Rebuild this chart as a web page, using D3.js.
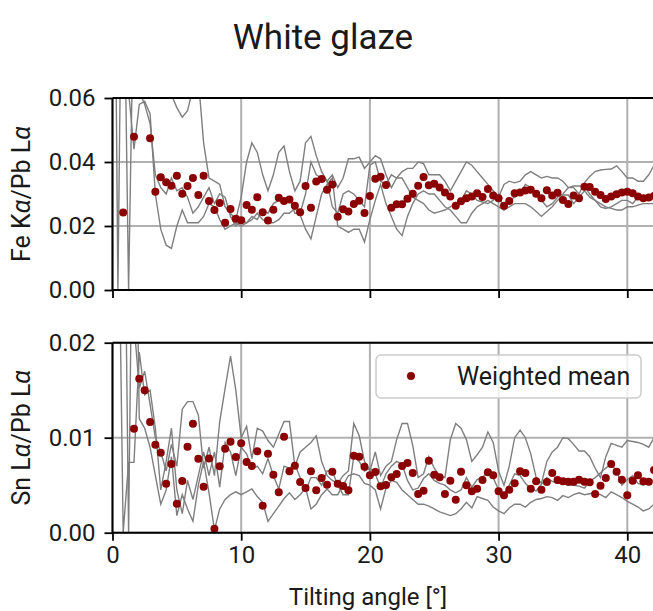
<!DOCTYPE html>
<html>
<head>
<meta charset="utf-8">
<script src="https://cdn.jsdelivr.net/npm/d3@7"></script>
<style>
  body { margin: 0; background: #fff; }
  svg text { font-family: Roboto, "Noto Sans", sans-serif; fill: #1a1a1a; }
</style>
</head>
<body>
<div id="chart"></div>
<script>
var width = 653, height = 611;

// tilting angles of the measurements [deg]
var angles = [
  0.00, 0.42, 0.83, 1.25, 1.67, 2.08, 2.50, 2.92, 3.33, 3.75,
  4.17, 4.58, 5.00, 5.42, 5.83, 6.25, 6.67, 7.08, 7.50, 7.92,
  8.33, 8.75, 9.17, 9.58, 10.00, 10.42, 10.83, 11.25, 11.67, 12.08,
  12.50, 12.92, 13.33, 13.75, 14.17, 14.58, 15.00, 15.42, 15.83, 16.25,
  16.67, 17.08, 17.50, 17.92, 18.33, 18.75, 19.17, 19.58, 20.00, 20.42,
  20.83, 21.25, 21.67, 22.08, 22.50, 22.92, 23.33, 23.75, 24.17, 24.58,
  25.00, 25.42, 25.83, 26.25, 26.67, 27.08, 27.50, 27.92, 28.33, 28.75,
  29.17, 29.58, 30.00, 30.42, 30.83, 31.25, 31.67, 32.08, 32.50, 32.92,
  33.33, 33.75, 34.17, 34.58, 35.00, 35.42, 35.83, 36.25, 36.67, 37.08,
  37.50, 37.92, 38.33, 38.75, 39.17, 39.58, 40.00, 40.42, 40.83, 41.25,
  41.67, 42.08
];

// Fe Ka / Pb La
var feMean = [
  null, null, 0.0242, null, 0.0479, null, null, 0.0474, 0.0307, 0.0352,
  0.0337, 0.0326, 0.0357, 0.0301, 0.0325, 0.0350, 0.0297, 0.0357, 0.0278, 0.0250,
  0.0272, 0.0210, 0.0253, 0.0223, 0.0218, 0.0266, 0.0251, 0.0290, 0.0243, 0.0217,
  0.0251, 0.0288, 0.0278, 0.0283, 0.0263, 0.0243, 0.0325, 0.0257, 0.0339, 0.0347,
  0.0313, 0.0330, 0.0229, 0.0252, 0.0245, 0.0269, 0.0279, 0.0241, 0.0294, 0.0348,
  0.0354, 0.0328, 0.0257, 0.0268, 0.0268, 0.0285, 0.0301, 0.0326, 0.0353, 0.0327,
  0.0332, 0.0320, 0.0305, 0.0292, 0.0263, 0.0277, 0.0287, 0.0292, 0.0302, 0.0291,
  0.0316, 0.0295, 0.0287, 0.0263, 0.0278, 0.0302, 0.0305, 0.0311, 0.0313, 0.0301,
  0.0287, 0.0312, 0.0295, 0.0304, 0.0281, 0.0269, 0.0295, 0.0287, 0.0323, 0.0322,
  0.0307, 0.0297, 0.0284, 0.0292, 0.0299, 0.0305, 0.0307, 0.0302, 0.0292, 0.0287,
  0.0289, 0.0294
];
var feRunA = [
  0.20, 0.000, 0.15, 0.062, 0.044, 0.058, 0.059, 0.055, 0.030, 0.019,
  0.014, 0.013, 0.020, 0.025, 0.021, 0.021, 0.021, 0.023, 0.027, 0.026,
  0.022, 0.019, 0.020, 0.021, 0.020, 0.021, 0.022, 0.024, 0.022, 0.021,
  0.021, 0.022, 0.024, 0.024, 0.0255, 0.0234, 0.019, 0.016, 0.023, 0.030,
  0.033, 0.035, 0.020, 0.019, 0.018, 0.019, 0.019, 0.015, 0.022, 0.028,
  0.033, 0.027, 0.023, 0.019, 0.017, 0.023, 0.027, 0.030, 0.031, 0.030,
  0.030, 0.028, 0.026, 0.025, 0.023, 0.021, 0.021, 0.024, 0.026, 0.027,
  0.028, 0.027, 0.026, 0.025, 0.026, 0.027, 0.027, 0.027, 0.026, 0.0245,
  0.023, 0.0245, 0.026, 0.028, 0.0297, 0.0297, 0.027, 0.029, 0.031, 0.029,
  0.028, 0.027, 0.026, 0.0255, 0.025, 0.025, 0.026, 0.026, 0.0265, 0.027,
  0.027, 0.027
];
var feRunB = [
  0.20, 0.20, 0.12, 0.000, 0.10, 0.062, 0.058, 0.052, 0.036, 0.032,
  0.030, 0.035, 0.031, 0.032, 0.029, 0.024, 0.026, 0.029, 0.032, 0.027,
  0.030, 0.029, 0.023, 0.020, 0.022, 0.021, 0.023, 0.022, 0.025, 0.024,
  0.027, 0.028, 0.027, 0.029, 0.024, 0.024, 0.030, 0.040, 0.036, 0.035,
  0.034, 0.026, 0.024, 0.030, 0.031, 0.030, 0.028, 0.026, 0.039, 0.040,
  0.034, 0.033, 0.036, 0.035, 0.035, 0.032, 0.029, 0.028, 0.027, 0.025,
  0.024, 0.0245, 0.025, 0.026, 0.027, 0.028, 0.031, 0.030, 0.028, 0.0275,
  0.027, 0.028, 0.030, 0.025, 0.028, 0.029, 0.030, 0.033, 0.032, 0.030,
  0.028, 0.026, 0.027, 0.029, 0.030, 0.032, 0.0325, 0.0325, 0.0323, 0.030,
  0.028, 0.026, 0.0255, 0.026, 0.027, 0.028, 0.028, 0.027, 0.029, 0.0295,
  0.0295, 0.030
];
var feRunC = [
  0.20, 0.15, 0.09, 0.070, 0.062, 0.063, 0.066, 0.068, 0.070, 0.070,
  0.066, 0.061, 0.057, 0.054, 0.056, 0.063, 0.066, 0.046, 0.035, 0.034,
  0.033, 0.026, 0.024, 0.022, 0.029, 0.040, 0.046, 0.043, 0.036, 0.031,
  0.036, 0.043, 0.045, 0.037, 0.031, 0.034, 0.046, 0.048, 0.042, 0.037,
  0.034, 0.036, 0.032, 0.035, 0.041, 0.041, 0.0415, 0.038, 0.040, 0.042,
  0.041, 0.036, 0.032, 0.035, 0.037, 0.038, 0.038, 0.040, 0.0395, 0.036,
  0.036, 0.036, 0.034, 0.031, 0.034, 0.037, 0.040, 0.039, 0.037, 0.035,
  0.033, 0.031, 0.029, 0.033, 0.034, 0.0335, 0.034, 0.036, 0.037, 0.036,
  0.035, 0.0355, 0.035, 0.035, 0.034, 0.032, 0.032, 0.030, 0.0335, 0.0355,
  0.037, 0.0375, 0.0377, 0.0378, 0.0388, 0.037, 0.035, 0.035, 0.034, 0.034,
  0.036, 0.039
];

// Sn La / Pb La
var snMean = [
  null, null, null, null, 0.01095, 0.0162, 0.0150, 0.01165, 0.00926, 0.00842,
  0.00516, 0.00723, 0.00305, 0.00544, 0.00905, 0.01147, 0.00779, 0.00484, 0.00782, 0.00042,
  0.00699, 0.00884, 0.00958, 0.00797, 0.00941, 0.00744, 0.00702, 0.00857, 0.00284, 0.00832,
  0.00611, 0.00425, 0.01011, 0.00646, 0.00705, 0.00534, 0.0047, 0.00646, 0.00446, 0.00576,
  0.00505, 0.00642, 0.00516, 0.00491, 0.00446, 0.0081, 0.0080, 0.00695, 0.00604, 0.00639,
  0.00488, 0.00502, 0.00583, 0.00618, 0.00702, 0.00734, 0.00628, 0.00407, 0.00442, 0.00758,
  0.00611, 0.00583, 0.00407, 0.00547, 0.00347, 0.00642, 0.00499, 0.00436, 0.00463, 0.00555,
  0.00636, 0.00604, 0.00436, 0.00394, 0.00453, 0.0052, 0.00646, 0.00628, 0.00463, 0.00541,
  0.00453, 0.00533, 0.00628, 0.00555, 0.00541, 0.00537, 0.00537, 0.00558, 0.00537, 0.0053,
  0.00407, 0.00495, 0.00576, 0.00723, 0.00642, 0.00558, 0.00394, 0.00547, 0.00604, 0.00541,
  0.00537, 0.0066
];
var snRunA = [
  0.05, 0.05, 0.04, 0.028, 0.022, 0.0152, 0.0170, 0.0135, 0.0100, 0.0085,
  0.0065, 0.0093, 0.0070, 0.0130, 0.0138, 0.0138, 0.0124, 0.0068, 0.0090, 0.0060,
  0.0117, 0.0152, 0.0186, 0.0150, 0.0100, 0.0112, 0.0078, 0.0110, 0.0107, 0.0097,
  0.0090, 0.0104, 0.0117, 0.0117, 0.0070, 0.0085, 0.0090, 0.0095, 0.0102, 0.0075,
  0.0060, 0.0055, 0.0052, 0.0060, 0.0065, 0.0115, 0.0102, 0.0075, 0.0065, 0.0085,
  0.0060, 0.0070, 0.0075, 0.0098, 0.0115, 0.0115, 0.0092, 0.0058, 0.0062, 0.0080,
  0.0068, 0.0060, 0.0058, 0.0098, 0.0115, 0.0110, 0.0098, 0.0075, 0.0082, 0.0090,
  0.0106, 0.0095, 0.0065, 0.0050, 0.0070, 0.0100, 0.0108, 0.0100, 0.0083, 0.0058,
  0.0052, 0.0075, 0.0085, 0.0090, 0.0100, 0.0099, 0.0093, 0.0086, 0.0086, 0.0080,
  0.0068, 0.0058, 0.0080, 0.0094, 0.0092, 0.0090, 0.0097, 0.0096, 0.0095, 0.0093,
  0.0090, 0.0100
];
var snRunB = [
  0.05, 0.04, 0.000, 0.0074, 0.0074, 0.0190, 0.0145, 0.0150, 0.0110, 0.0045,
  0.0075, 0.0110, 0.0045, 0.0020, 0.0055, 0.0035, 0.0060, 0.0085, 0.0060, 0.0085,
  0.0048, 0.0095, 0.0085, 0.0060, 0.0090, 0.0083, 0.0067, 0.0070, 0.0062, 0.0078,
  0.0060, 0.0046, 0.0070, 0.0068, 0.0072, 0.0058, 0.0044, 0.0058, 0.0058, 0.0050,
  0.0065, 0.0065, 0.0050, 0.0040, 0.0040, 0.0080, 0.0075, 0.0065, 0.0068, 0.0062,
  0.0047, 0.0062, 0.0070, 0.0075, 0.0072, 0.0055, 0.0045, 0.0047, 0.0057, 0.0062,
  0.0055, 0.0052, 0.0050, 0.0045, 0.0042, 0.0045, 0.0058, 0.0048, 0.0056, 0.0058,
  0.0065, 0.0058, 0.0045, 0.0040, 0.0050, 0.0062, 0.0060, 0.0052, 0.0046, 0.0044,
  0.0051, 0.0058, 0.0054, 0.0052, 0.0052, 0.0050, 0.0050, 0.0049, 0.0047, 0.0054,
  0.0058, 0.0063, 0.0068, 0.0072, 0.0065, 0.0050, 0.0056, 0.0060, 0.0052, 0.0050,
  0.0055, 0.0055
];
var snRunC = [
  0.05, 0.05, 0.05, 0.000, 0.05, 0.0120, 0.0110, 0.0090, 0.0060, 0.0030,
  0.0045, 0.0080, 0.0018, 0.0040, 0.0025, 0.0012, 0.0050, 0.0075, 0.0042, 0.0003,
  0.0025, 0.0035, 0.0040, 0.0043, 0.0040, 0.0043, 0.0046, 0.0038, 0.0032, 0.0012,
  0.0020, 0.0028, 0.0036, 0.0042, 0.0035, 0.0040, 0.0047, 0.0025, 0.0030, 0.0040,
  0.0046, 0.0040, 0.0040, 0.0050, 0.0060, 0.0062, 0.0060, 0.0052, 0.0050, 0.0045,
  0.0025, 0.0047, 0.0055, 0.0053, 0.0045, 0.0040, 0.0035, 0.0030, 0.0030, 0.0028,
  0.0025, 0.0022, 0.0020, 0.0018, 0.0020, 0.0025, 0.0032, 0.0026, 0.0038, 0.0036,
  0.0034, 0.0027, 0.0023, 0.0020, 0.0026, 0.0030, 0.0030, 0.0027, 0.0032, 0.0035,
  0.0036, 0.0038, 0.0037, 0.0034, 0.0039, 0.0037, 0.0040, 0.0042, 0.0040, 0.0041,
  0.0042, 0.0040, 0.0037, 0.0043, 0.0040, 0.0037, 0.0033, 0.0030, 0.0027, 0.0023,
  0.0025, 0.0030
];

var xTicks = [0, 10, 20, 30, 40];
var feTicks = [0, 0.02, 0.04, 0.06];
var snTicks = [0, 0.01, 0.02];

var svg = d3.select("#chart").append("svg")
    .attr("width", width)
    .attr("height", height);

var x = d3.scaleLinear().domain([0, 42.2]).range([112.5, 655.6]);

svg.append("text")
    .attr("x", 323).attr("y", 49)
    .attr("text-anchor", "middle")
    .style("font-size", "35px")
    .text("White glaze");

function drawPanel(id, top, bottom, yMax, ticks, runs, mean, labelHead, labelTail, showX) {
  var y = d3.scaleLinear().domain([0, yMax]).range([bottom, top]);
  var g = svg.append("g").attr("class", id);

  svg.append("clipPath").attr("id", "clip-" + id)
    .append("rect")
    .attr("x", x.range()[0]).attr("y", top)
    .attr("width", x.range()[1] - x.range()[0]).attr("height", bottom - top);

  // grid
  g.append("g").selectAll("line").data(xTicks).enter().append("line")
    .attr("x1", function (d) { return x(d); }).attr("x2", function (d) { return x(d); })
    .attr("y1", top).attr("y2", bottom)
    .attr("stroke", "#b0b0b0").attr("stroke-width", 2);
  g.append("g").selectAll("line").data(ticks).enter().append("line")
    .attr("x1", x.range()[0]).attr("x2", x.range()[1])
    .attr("y1", function (d) { return y(d); }).attr("y2", function (d) { return y(d); })
    .attr("stroke", "#b0b0b0").attr("stroke-width", 2);

  var plot = g.append("g").attr("clip-path", "url(#clip-" + id + ")");

  var line = d3.line()
    .x(function (d, i) { return x(angles[i]); })
    .y(function (d) { return y(d); });

  plot.selectAll("path.run").data(runs).enter().append("path")
    .attr("class", "run")
    .attr("d", line)
    .attr("fill", "none")
    .attr("stroke", "#7f7f7f")
    .attr("stroke-width", 1.4);

  var pts = mean.map(function (v, i) { return { a: angles[i], v: v }; })
    .filter(function (d) { return d.v !== null; });
  plot.selectAll("circle").data(pts).enter().append("circle")
    .attr("cx", function (d) { return x(d.a); })
    .attr("cy", function (d) { return y(d.v); })
    .attr("r", 4)
    .attr("fill", "#8b0000");

  // axes
  var yAxis = d3.axisLeft(y).tickValues(ticks).tickFormat(d3.format(".2f")).tickSize(8).tickPadding(9);
  var ya = g.append("g").attr("transform", "translate(" + x.range()[0] + ",0)").call(yAxis);
  var xAxis = d3.axisBottom(x).tickValues(xTicks).tickSize(8).tickPadding(5)
    .tickFormat(showX ? d3.format("d") : "");
  var xa = g.append("g").attr("transform", "translate(0," + bottom + ")").call(xAxis);
  [ya, xa].forEach(function (a) {
    a.select(".domain").remove();
    a.selectAll(".tick line").attr("stroke", "#000").attr("stroke-width", 1.8);
    a.selectAll(".tick text").style("font-size", "24px").attr("fill", "#1a1a1a");
  });

  // spines
  g.append("line").attr("x1", x.range()[0]).attr("x2", x.range()[1])
    .attr("y1", top).attr("y2", top).attr("stroke", "#000").attr("stroke-width", 2);
  g.append("line").attr("x1", x.range()[0]).attr("x2", x.range()[1])
    .attr("y1", bottom).attr("y2", bottom).attr("stroke", "#000").attr("stroke-width", 2);
  g.append("line").attr("x1", x.range()[0]).attr("x2", x.range()[0])
    .attr("y1", top).attr("y2", bottom).attr("stroke", "#000").attr("stroke-width", 2);

  var lbl = g.append("text")
    .attr("transform", "translate(30," + ((top + bottom) / 2) + ") rotate(-90)")
    .attr("text-anchor", "middle")
    .style("font-size", "25px");
  lbl.append("tspan").text(labelHead);
  lbl.append("tspan").style("font-style", "italic").text("\u03b1");
  lbl.append("tspan").text(labelTail);
  lbl.append("tspan").style("font-style", "italic").text("\u03b1");
  return y;
}

drawPanel("fe", 98, 290, 0.06, feTicks, [feRunA, feRunB, feRunC], feMean, "Fe K", "/Pb L", false);
drawPanel("sn", 342.7, 532.7, 0.02, snTicks, [snRunA, snRunB, snRunC], snMean, "Sn L", "/Pb L", true);

svg.append("text")
    .attr("x", 368).attr("y", 605)
    .attr("text-anchor", "middle")
    .style("font-size", "24px")
    .text("Tilting angle [\u00b0]");

// legend
var leg = svg.append("g");
leg.append("rect")
    .attr("x", 376).attr("y", 355).attr("width", 265).attr("height", 43).attr("rx", 5)
    .attr("fill", "#fff").attr("fill-opacity", 0.8)
    .attr("stroke", "#cccccc").attr("stroke-width", 1.5);
leg.append("circle").attr("cx", 411).attr("cy", 376).attr("r", 4).attr("fill", "#8b0000");
leg.append("text").attr("x", 457).attr("y", 385)
    .style("font-size", "25px")
    .text("Weighted mean");
</script>
</body>
</html>
